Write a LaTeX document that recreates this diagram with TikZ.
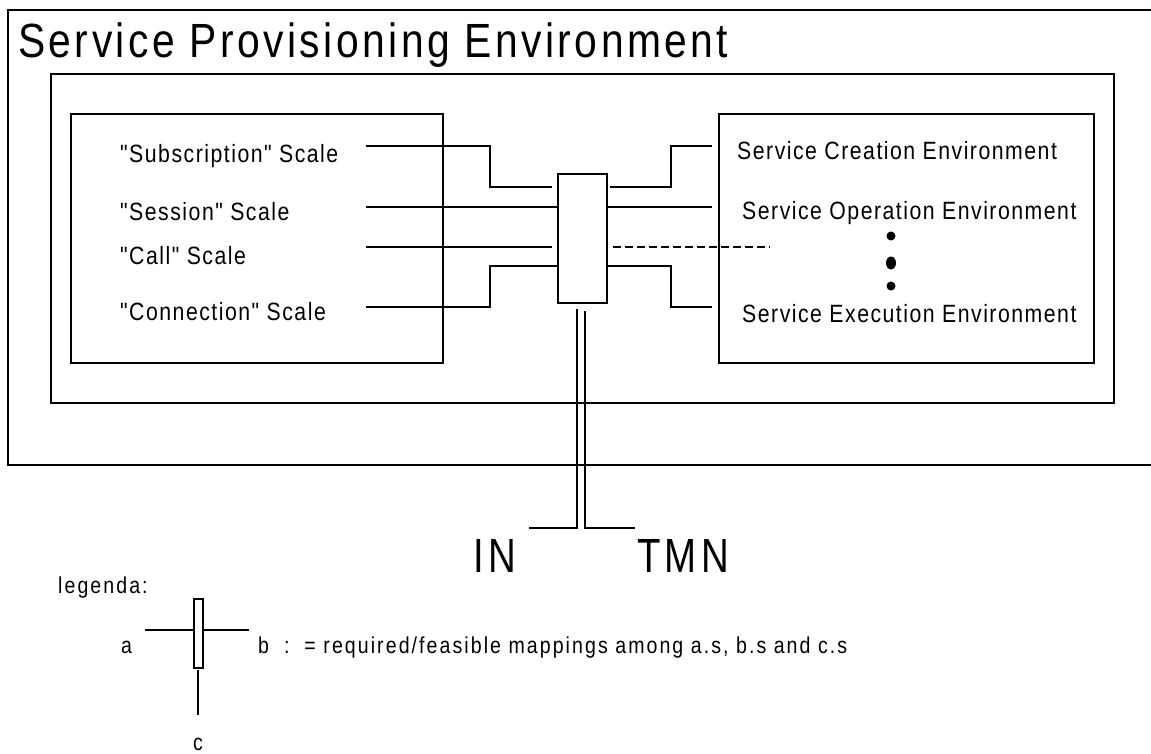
\documentclass[tikz,border=0pt]{standalone}
\usepackage{fontspec}
\usetikzlibrary{shapes.geometric}
\setmainfont{Liberation Sans}
\newfontfamily\narrowfont[FakeStretch=0.85,LetterSpace=6]{Liberation Sans}
\newfontfamily\titlefont[FakeStretch=0.85,LetterSpace=7.2]{Liberation Sans}
\newfontfamily\legfont[FakeStretch=0.85,LetterSpace=9]{Liberation Sans}
\newfontfamily\bigfont[FakeStretch=0.8,LetterSpace=9]{Liberation Sans}
\tikzset{
  box/.style={draw, line width=2pt, inner sep=0pt, anchor=north west},
  wire/.style={line width=2pt},
  thickwire/.style={line width=2.6pt},
  lab/.style={anchor=base west, inner sep=0pt, font=\narrowfont\fontsize{25}{30}\selectfont},
  leglab/.style={anchor=base west, inner sep=0pt, font=\legfont\fontsize{23}{28}\selectfont},
  big/.style={anchor=base west, inner sep=0pt, font=\bigfont\fontsize{48}{56}\selectfont},
  dot/.style={fill=black, draw=none}
}
\begin{document}
\begin{tikzpicture}[x=1pt,y=-1pt]
\useasboundingbox (0,0) rectangle (1151,754);
% outer frame (open on the right)
\coordinate (otr) at (1151,10);
\coordinate (otl) at (8,10);
\coordinate (obl) at (8,465);
\coordinate (obr) at (1151,465);
\draw[line width=2pt] (otr) -- (otl) -- (obl) -- (obr);
\node[anchor=base west, inner sep=0pt, font=\titlefont\fontsize{48}{56}\selectfont] (title) at (18,58) {Service Provisioning Environment};
% inner frame
\node[box, minimum width=1063pt, minimum height=329pt] (inner) at (50,73) {};
% left and right boxes
\node[box, minimum width=372pt, minimum height=249pt] (lbox) at (70,113) {};
\node[box, minimum width=375pt, minimum height=249pt] (rbox) at (718,113) {};
% mapping box
\node[box, minimum width=49pt, minimum height=129pt] (map) at (557,173) {};
% left labels
\node[lab] (l1) at (120,163) {"Subscription" Scale};
\node[lab] (l2) at (120,221) {"Session" Scale};
\node[lab] (l3) at (120,264) {"Call" Scale};
\node[lab] (l4) at (120,320) {"Connection" Scale};
% right labels
\node[lab] (r1) at (737,160) {Service Creation Environment};
\node[lab] (r2) at (742,220) {Service Operation Environment};
\node[lab] (r3) at (742,322) {Service Execution Environment};
% dots
\node[dot, circle, minimum size=9pt, inner sep=0pt] (d1) at (891,236) {};
\node[dot, ellipse, minimum width=10pt, minimum height=13pt, inner sep=0pt] (d2) at (891,263) {};
\node[dot, circle, minimum size=9pt, inner sep=0pt] (d3) at (891,286) {};
% left wires
\coordinate (a1) at (366,146);
\coordinate (a2) at (366,207);
\coordinate (a3) at (366,247);
\coordinate (a4) at (366,307);
\coordinate (m1) at (552,187);
\coordinate (m3) at (552,247);
\draw[wire] (a1) -- (490,146) -- (490,187) -- (m1);
\draw[thickwire] (a2) -- (map.west |- a2);
\draw[thickwire] (a3) -- (m3);
\draw[wire] (a4) -- (490,307) -- (490,266) -- (map.west |- 0,266);
% right wires
\coordinate (b1) at (712,146);
\coordinate (b2) at (712,207);
\coordinate (b3) at (770,247);
\coordinate (b4) at (712,307);
\coordinate (n1) at (610,187);
\coordinate (n3) at (613,247);
\draw[wire] (n1) -- (671,187) -- (671,146) -- (b1);
\draw[thickwire] (map.east |- b2) -- (b2);
\draw[thickwire, dash pattern=on 8pt off 4pt] (n3) -- (b3);
\draw[wire] (map.east |- 0,266) -- (671,266) -- (671,307) -- (b4);
% double line down to IN / TMN
\coordinate (p1) at (577,309);
\coordinate (p2) at (585,311);
\coordinate (q1) at (529,528);
\coordinate (q2) at (635,528);
\draw[wire] (p1) -- (p1 |- q1) -- (q1);
\draw[wire] (p2) -- (p2 |- q2) -- (q2);
\node[big] (in) at (473,572) {IN};
\node[big] (tmn) at (637,572) {TMN};
% legend
\node[leglab] (leg) at (58,593) {legenda:};
\node[box, line width=1.8pt, minimum width=9pt, minimum height=69pt] (lmap) at (193,598) {};
\coordinate (la) at (145,630);
\coordinate (lb) at (249,630);
\coordinate (lc) at (198,715);
\coordinate (lct) at (198,670);
\draw[wire] (la) -- (lmap.west |- la);
\draw[wire] (lmap.east |- lb) -- (lb);
\draw[wire] (lct) -- (lc);
\node[leglab] (ta) at (121,653) {a};
\node[leglab] (tb) at (258,653) {b~~:~~= required/feasible mappings among a.s, b.s and c.s};
\node[leglab] (tc) at (193,750) {c};
\end{tikzpicture}
\end{document}
